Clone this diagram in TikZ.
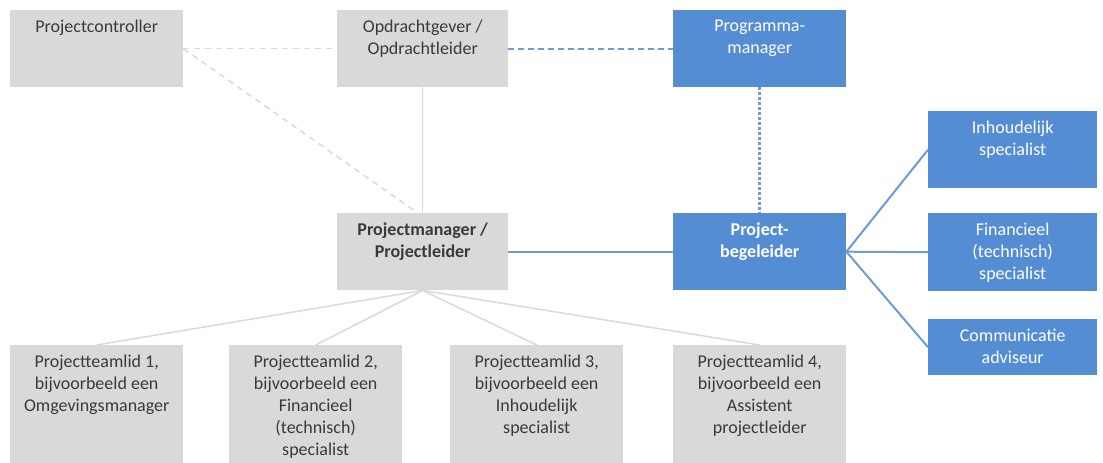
\documentclass[tikz,border=0pt]{standalone}
\usepackage{fontspec}
\setmainfont{Carlito}
\definecolor{boxgray}{RGB}{217,217,217}
\definecolor{boxblue}{RGB}{84,141,212}
\definecolor{lineblue}{RGB}{110,155,214}
\definecolor{linegray}{RGB}{218,218,218}
\definecolor{txtgray}{RGB}{58,58,58}
\newcommand{\boxtext}[3]{\parbox[t][#2][t]{#1}{\centering\vspace*{10pt}#3\par}}
\begin{document}
\begin{tikzpicture}[x=1pt,y=-1pt,
  gbox/.style={fill=boxgray,inner sep=0pt,anchor=north west,text=txtgray,font=\fontsize{18}{22}\selectfont},
  bbox/.style={fill=boxblue,inner sep=0pt,anchor=north west,text=white,font=\fontsize{18}{22}\selectfont},
  gline/.style={draw=linegray,line width=1.5pt},
  bline/.style={draw=lineblue,line width=2pt},
  gdash/.style={dash pattern=on 6pt off 5pt},
  bdash/.style={dash pattern=on 6pt off 4pt},
  bdot/.style={dash pattern=on 3pt off 2pt,line width=2.5pt}]
\useasboundingbox (0,0) rectangle (1103,463);
\fill[white] (0,0) rectangle (1103,463);
\node[gbox] (pc) at (10,10) {\boxtext{173pt}{77pt}{Projectcontroller}};
\node[gbox] (og) at (337,10) {\boxtext{171pt}{77pt}{Opdrachtgever /\\Opdrachtleider}};
\node[bbox] (pg) at (673,10) {\boxtext{173pt}{77pt}{Programma-\\manager}};
\node[gbox] (pm) at (337,213) {\boxtext{171pt}{77pt}{\bfseries Projectmanager /\\Projectleider}};
\node[bbox] (pb) at (673,213) {\boxtext{173pt}{77pt}{\bfseries Project-\\begeleider}};
\node[bbox] (is) at (928,111) {\boxtext{169pt}{77pt}{Inhoudelijk\\specialist}};
\node[bbox] (fs) at (928,213) {\boxtext{169pt}{78pt}{Financieel\\(technisch)\\specialist}};
\node[bbox] (ca) at (928,319) {\boxtext{169pt}{56pt}{Communicatie\\adviseur}};
\node[gbox] (t1) at (10,345) {\boxtext{173pt}{118pt}{Projectteamlid 1,\\bijvoorbeeld een\\Omgevingsmanager}};
\node[gbox] (t2) at (229,345) {\boxtext{173pt}{118pt}{Projectteamlid 2,\\bijvoorbeeld een\\Financieel\\(technisch)\\specialist}};
\node[gbox] (t3) at (450,345) {\boxtext{173pt}{118pt}{Projectteamlid 3,\\bijvoorbeeld een\\Inhoudelijk\\specialist}};
\node[gbox] (t4) at (673,345) {\boxtext{173pt}{118pt}{Projectteamlid 4,\\bijvoorbeeld een\\Assistent\\projectleider}};
\draw[gline,gdash] (pc.east) -- (og.west);
\draw[gline,gdash] (pc.east) -- ([xshift=-5pt]pm.north);
\draw[bline,bdash] (og.east) -- (pg.west);
\draw[gline] (og.south) -- (pm.north);
\draw[bline,bdot] (pg.south) -- (pb.north);
\draw[bline] (pm.east) -- (pb.west);
\draw[bline] (pb.east) -- (is.west);
\draw[bline] (pb.east) -- (fs.west);
\draw[bline] (pb.east) -- (ca.west);
\draw[gline] (pm.south) -- (t1.north);
\draw[gline] (pm.south) -- (t2.north);
\draw[gline] (pm.south) -- (t3.north);
\draw[gline] (pm.south) -- (t4.north);
\end{tikzpicture}
\end{document}
